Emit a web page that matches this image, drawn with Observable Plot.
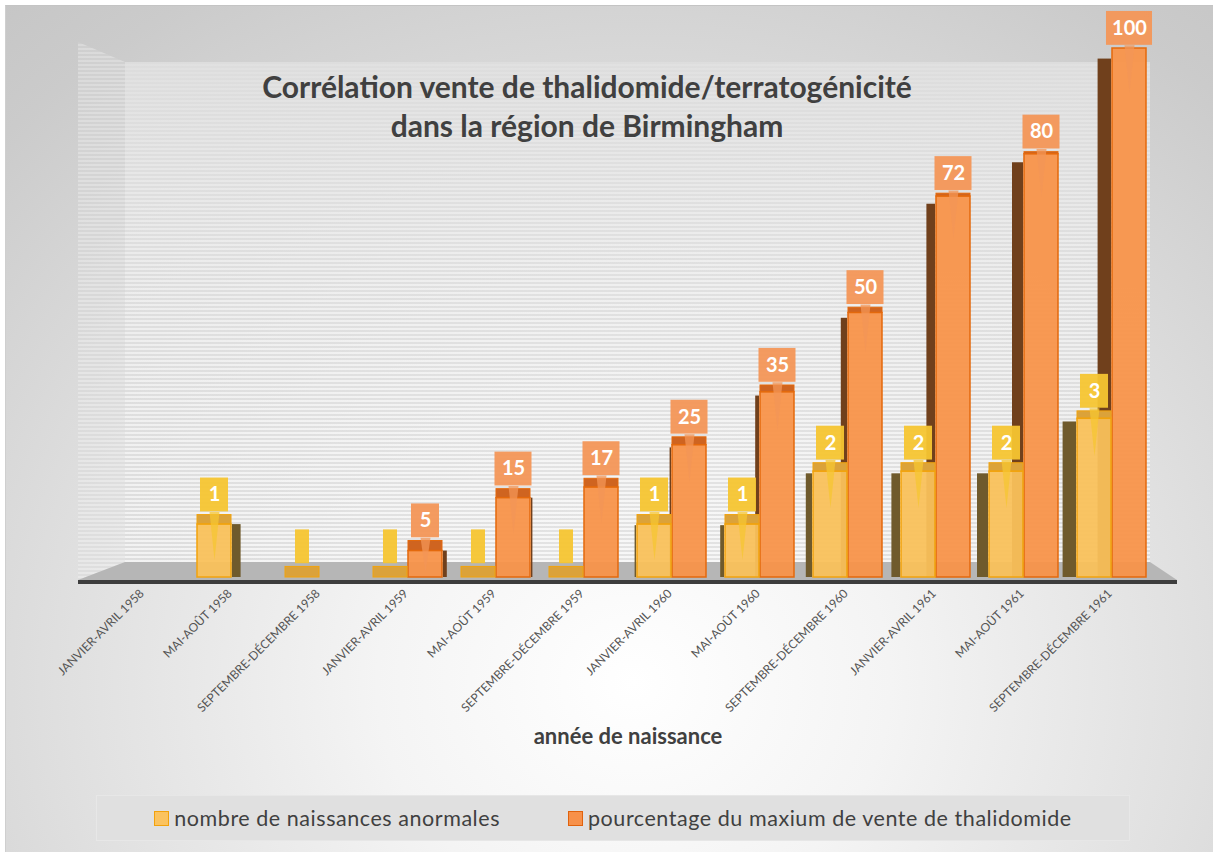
<!DOCTYPE html>
<html><head><meta charset="utf-8">
<script src="https://cdn.jsdelivr.net/npm/d3@7"></script>
<script src="https://cdn.jsdelivr.net/npm/@observablehq/plot@0.6"></script>
<style>
body{margin:0;background:#fff;font-family:Lato,"Open Sans",sans-serif;}
#wrap{position:relative;width:1213px;height:852px;overflow:hidden;}
#bg{position:absolute;left:5px;top:5px;right:0;bottom:0;border-top:1px solid #c4c4c4;border-left:1px solid #cfcfcf;
 background:radial-gradient(ellipse 85% 110% at 52% 80%, #ffffff 0%, #f4f4f4 25%, #e0e0e0 55%, #cbcbcb 85%, #c4c4c4 100%);}
#chart{position:absolute;left:0;top:0;}
#legend{position:absolute;left:96px;top:795px;width:1034px;height:46px;box-sizing:border-box;background:#e0e0e0;border:1px solid #e7e7e7;
 display:flex;align-items:center;justify-content:center;font-size:21.5px;letter-spacing:0.55px;color:#404040;}
#legend .item{display:flex;align-items:center;}
#legend .item + .item{margin-left:68px;}
#legend .sw{display:inline-block;width:13px;height:13px;border:1.5px solid;margin-right:5px;}
</style></head>
<body>
<div id="wrap"><div id="bg"></div><div id="chart"></div><div id="legend"></div></div>
<script>
// ---- data ----
const categories = ["JANVIER-AVRIL 1958","MAI-AOÛT 1958","SEPTEMBRE-DÉCEMBRE 1958","JANVIER-AVRIL 1959","MAI-AOÛT 1959","SEPTEMBRE-DÉCEMBRE 1959","JANVIER-AVRIL 1960","MAI-AOÛT 1960","SEPTEMBRE-DÉCEMBRE 1960","JANVIER-AVRIL 1961","MAI-AOÛT 1961","SEPTEMBRE-DÉCEMBRE 1961"];
const naissancesAnormales = [null, 1, 0, 0, 0, 0, 1, 1, 2, 2, 2, 3];
const venteThalidomide = [null, null, null, 5, 15, 17, 25, 35, 50, 72, 80, 100];
const seriesNames = ["nombre de naissances anormales", "pourcentage du maxium de vente de thalidomide"];
const titleText = "Corrélation vente de thalidomide/terratogénicité\ndans la région de Birmingham";
const axisTitle = "année de naissance";
const birthsRatio = 10; // secondary scale: 1 naissance drawn as 10 %

// ---- styling / layout ----
const W = 1213, H = 790, ML = 78, MR = 36, MT = 48, MB = 213;
const PI = 0.211, PO = 0.3;
const step = (W - ML - MR) / (categories.length - PI + 2 * PO);
const BW = step * (1 - PI), half = BW / 2;
const pxPerUnit = (H - MT - MB) / 100;
const colors = [
  {front: "#f9c15b", stroke: "#f2a30c", side: "#6f5a2c", top: "#dba23a", label: "#f5c531"},
  {front: "#f8944a", stroke: "#e4690c", side: "#70401c", top: "#cf6420", label: "#f39657"}
];

const rows = [];
categories.forEach((c, i) => {
  if (naissancesAnormales[i] != null) rows.push({cat: c, i, k: 0, value: naissancesAnormales[i], h: naissancesAnormales[i] * birthsRatio});
  if (venteThalidomide[i] != null) rows.push({cat: c, i, k: 1, value: venteThalidomide[i], h: venteThalidomide[i]});
});
const topH = r => 0.02 * (100 - r.h);

function decor(index, scales, values, dims) {
  const {width, height, marginLeft, marginRight, marginTop, marginBottom} = dims;
  const y0 = height - marginBottom, xl = marginLeft, xr = width - marginRight;
  const backL = xl + 47, backR = xr - 27, backY = y0 - 15, wallTop = marginTop + 14;
  const g = d3.create("svg:g");
  const defs = g.append("defs");
  const p = defs.append("pattern").attr("id", "stripes").attr("patternUnits", "userSpaceOnUse").attr("width", 8).attr("height", 4);
  p.append("rect").attr("width", 8).attr("height", 2).attr("fill", "#f8f8f8");
  p.append("rect").attr("y", 2).attr("width", 8).attr("height", 2).attr("fill", "#d9d9d9");
  const lg = defs.append("linearGradient").attr("id", "wallfade").attr("x1", 0).attr("x2", 0).attr("y1", 0).attr("y2", 1);
  lg.append("stop").attr("offset", "0%").attr("stop-color", "#dedede").attr("stop-opacity", 0.85);
  lg.append("stop").attr("offset", "45%").attr("stop-color", "#e6e6e6").attr("stop-opacity", 0.35);
  lg.append("stop").attr("offset", "100%").attr("stop-color", "#eeeeee").attr("stop-opacity", 0.1);
  g.append("rect").attr("x", backL).attr("y", wallTop).attr("width", backR - backL).attr("height", backY - wallTop).attr("fill", "url(#stripes)").attr("opacity", 0.75);
  g.append("rect").attr("x", backL).attr("y", wallTop).attr("width", backR - backL).attr("height", backY - wallTop).attr("fill", "url(#wallfade)");
  g.append("polygon").attr("points", `${xl},${marginTop - 6} ${backL},${wallTop} ${backL},${backY} ${xl},${y0 + 3}`).attr("fill", "url(#stripes)").attr("opacity", 0.35);
  g.append("polygon").attr("points", `${xl},${y0 + 3} ${backL},${backY} ${backR},${backY} ${xr},${y0 + 3}`).attr("fill", "#b6b6b6");
  g.append("line").attr("x1", xl).attr("x2", xr).attr("y1", y0 + 5).attr("y2", y0 + 5).attr("stroke", "#3d3d3d").attr("stroke-width", 4);
  return g.node();
}

function barMarks(k) {
  const out = [];
  rows.filter(r => r.k === k).forEach(r => {
    const c = colors[k];
    const s = 12 - 2.4 * r.i;
    const L = k * half, R = BW - (k + 1) * half;
    if (r.h > 0 && Math.abs(s) >= 1) {
      const a = Math.abs(s);
      const sideTop = d => d.h - (s < 0 ? 0.02 * d.h : 0);
      if (s > 0) out.push(Plot.barY([r], {x: "cat", y: sideTop, insetLeft: (k + 1) * half - a, insetRight: R, dx: a, fill: c.side}));
      else out.push(Plot.barY([r], {x: "cat", y: sideTop, insetLeft: L, insetRight: BW - L - a, dx: -a, fill: c.side}));
    }
    out.push(Plot.barY([r], {x: "cat", y1: "h", y2: d => d.h + topH(d), insetLeft: L, insetRight: R, fill: c.top, stroke: c.stroke, strokeWidth: 1}));
    if (r.h > 0) out.push(Plot.barY([r], {x: "cat", y: "h", insetLeft: L, insetRight: R, fill: c.front, fillOpacity: 0.95, stroke: c.stroke, strokeWidth: 1.5}));
  });
  return out;
}

function labelMarks() {
  const out = [];
  rows.forEach(r => {
    const c = colors[r.k];
    const txt = r.value === 0 ? "" : String(r.value);
    const w = txt.length ? 20 + 9 * txt.length : 15;
    const center = r.k * half + half / 2;
    const yb = r.h + topH(r) + 0.6, yt = yb + 6.4;
    const barPx = (r.h + topH(r)) * pxPerUnit;
    const len = Math.min(48, barPx * 0.85 + 4);
    if (txt) out.push(Plot.vector([r], {x: "cat", y: () => yb, dx: center - half, length: len, rotate: 180, anchor: "start", shape: "spike", r: 5, fill: c.label, stroke: "none", fillOpacity: 0.75}));
    out.push(Plot.barY([r], {x: "cat", y1: () => yb, y2: () => yt, insetLeft: center - w / 2, insetRight: BW - center - w / 2, fill: c.label, fillOpacity: 0.95}));
    if (txt) out.push(Plot.text([r], {x: "cat", y: () => (yb + yt) / 2, dx: center - half, text: () => txt, fill: "white", fontWeight: "bold", fontSize: 20}));
  });
  return out;
}

const chart = Plot.plot({
  width: W, height: H, marginLeft: ML, marginRight: MR, marginTop: MT, marginBottom: MB,
  style: {background: "transparent", fontFamily: "Lato, 'Open Sans', sans-serif", overflow: "visible"},
  x: {type: "band", domain: categories, paddingInner: PI, paddingOuter: PO},
  y: {domain: [0, 100], axis: null},
  marks: [
    decor,
    ...barMarks(1),
    ...barMarks(0),
    ...labelMarks(),
    Plot.axisX({tickRotate: -45, tickSize: 0, tickPadding: 14, dx: -2, fontSize: 12, color: "#555555", label: null}),
    Plot.text([titleText], {frameAnchor: "top", text: d => d, dx: -41, dy: 22, lineAnchor: "top", lineHeight: 1.3, fontSize: 30, fontWeight: "bold", fill: "#404040"}),
    Plot.text([axisTitle], {frameAnchor: "bottom", text: d => d, dy: 166, fontSize: 22, fontWeight: "bold", fill: "#404040"})
  ]
});
document.getElementById("chart").appendChild(chart);

const legend = d3.select("#legend");
seriesNames.forEach((name, k) => {
  const it = legend.append("span").attr("class", "item");
  it.append("span").attr("class", "sw").style("background", k ? "#f7914a" : "#fbc35f").style("border-color", k ? "#e0620d" : "#f2a20c");
  it.append("span").text(name);
});
</script>
</body></html>
